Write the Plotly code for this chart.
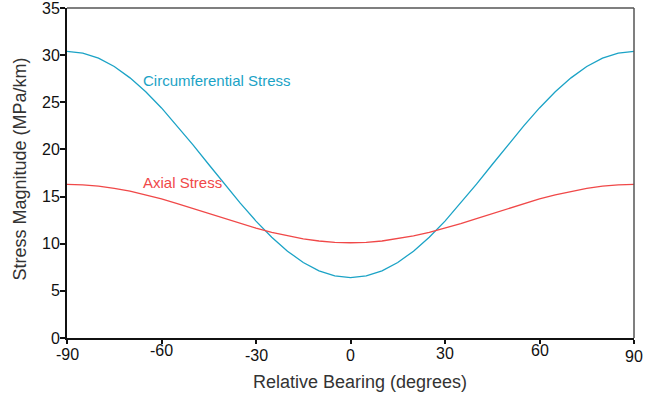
import plotly.graph_objects as go

bearing = [-90, -85, -80, -75, -70, -65, -60, -55, -50, -45, -40, -35, -30, -25, -20, -15, -10, -5,
           0, 5, 10, 15, 20, 25, 30, 35, 40, 45, 50, 55, 60, 65, 70, 75, 80, 85, 90]
circ_half = [6.40, 6.58, 7.12, 8.01, 9.21, 10.69, 12.40, 14.30, 16.32, 18.40,
             20.48, 22.50, 24.40, 26.11, 27.59, 28.79, 29.68, 30.22, 30.40]
axial_half = [10.10, 10.15, 10.29, 10.52, 10.83, 11.21, 11.65, 12.14, 12.66, 13.20,
              13.74, 14.26, 14.75, 15.19, 15.57, 15.88, 16.11, 16.25, 16.30]
circumferential = circ_half[::-1] + circ_half[1:]
axial = axial_half[::-1] + axial_half[1:]
x_ticks = [-90, -60, -30, 0, 30, 60, 90]
x_tick_labels = ["-90", "-60", "-30", "0", "30", "60", "90"]
y_ticks = [0, 5, 10, 15, 20, 25, 30, 35]
y_tick_labels = ["0", "5", "10", "15", "20", "25", "30", "35"]

# slight vertical stagger of x tick labels seen in the original (pixels below axis)
x_label_drop = [16, 12, 17, 17, 15, 12, 18]

circ_color = "#1ba3c6"
axial_color = "#f04848"
font = "Liberation Sans, Arial, sans-serif"

fig = go.Figure()
fig.add_trace(go.Scatter(x=bearing, y=circumferential, mode="lines",
                         line=dict(color=circ_color, width=1.3), name="Circumferential Stress"))
fig.add_trace(go.Scatter(x=bearing, y=axial, mode="lines",
                         line=dict(color=axial_color, width=1.3), name="Axial Stress"))

fig.add_annotation(x=-66.5, y=27.36, text="Circumferential Stress", showarrow=False,
                   xanchor="left", yanchor="middle", font=dict(color=circ_color, size=15, family=font))
fig.add_annotation(x=-66.5, y=16.44, text="Axial Stress", showarrow=False,
                   xanchor="left", yanchor="middle", font=dict(color=axial_color, size=15, family=font))

for xv, lab, dy in zip(x_ticks, x_tick_labels, x_label_drop):
    fig.add_annotation(x=xv, xref="x", y=0, yref="paper", text=lab, showarrow=False,
                       xanchor="center", yanchor="middle", yshift=-dy,
                       font=dict(color="#111111", size=16, family=font))

for yv, lab in zip(y_ticks, y_tick_labels):
    fig.add_annotation(x=0, xref="paper", y=yv, yref="y", text=lab, showarrow=False,
                       xanchor="right", yanchor="middle", xshift=-5,
                       font=dict(color="#111111", size=16, family=font))

fig.add_annotation(x=0.517, y=-0.133, xref="paper", yref="paper", text="Relative Bearing (degrees)",
                   showarrow=False, xanchor="center", yanchor="middle",
                   font=dict(color="#333333", size=18, family=font))
fig.add_annotation(x=-0.082, y=0.512, xref="paper", yref="paper", text="Stress Magnitude (MPa/km)",
                   showarrow=False, xanchor="center", yanchor="middle", textangle=-90,
                   font=dict(color="#333333", size=18, family=font))

fig.update_layout(
    width=658, height=399,
    margin=dict(l=67, r=24, t=8, b=61),
    paper_bgcolor="white", plot_bgcolor="white",
    showlegend=False,
    font=dict(family=font, color="#222222", size=13),
    xaxis=dict(range=[-90, 90], tickvals=x_ticks, showticklabels=False,
               showgrid=False, zeroline=False, showline=True, linecolor="#111111", linewidth=2,
               ticks="outside", ticklen=4, tickcolor="#111111", tickwidth=1.5),
    yaxis=dict(range=[0, 35], tickvals=y_ticks, showticklabels=False,
               showgrid=False, zeroline=False, showline=True, linecolor="#111111", linewidth=2,
               ticks="outside", ticklen=5, tickcolor="#111111", tickwidth=1.5),
    shapes=[
        dict(type="line", xref="paper", yref="paper", x0=0, x1=1, y0=1, y1=1,
             line=dict(color="#555555", width=1.5)),
        dict(type="line", xref="paper", yref="paper", x0=1, x1=1, y0=0, y1=1,
             line=dict(color="#555555", width=1.5)),
    ],
)

fig.write_html("out.html")
